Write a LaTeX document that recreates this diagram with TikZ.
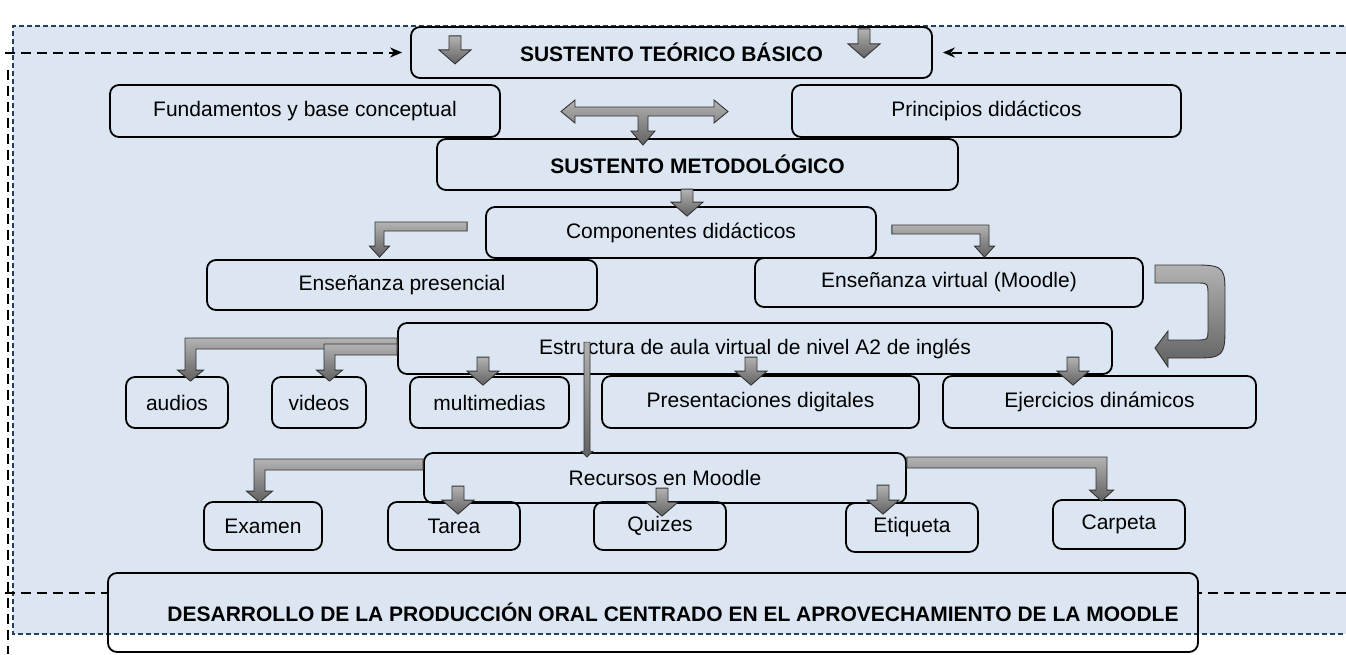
\documentclass[tikz,border=0pt]{standalone}
\usepackage{fontspec}
\setmainfont{Liberation Sans}
\usetikzlibrary{arrows.meta,calc}
\definecolor{bgblue}{HTML}{DCE6F2}
\definecolor{bordblue}{HTML}{243F60}
\newcommand\boxfont{\fontsize{21}{25}\selectfont}
% down block arrow: tip, length
\newcommand\dnarrow[2]{\draw[blk] #1 -- ++(-16,-14) -- ++(10,0) -- ++(0,{-(#2-14)}) -- ++(12,0) -- ++(0,{#2-14}) -- ++(10,0) -- cycle;}
% bent block arrow: bar start, tip, thickness, head half width, side (1 left, -1 right)
\newcommand\bendarrow[5]{\draw[blk] let \p1=#1, \p2=#2 in
  (\p1) -- ({\x2-(#5)*0.5*#3pt},\y1) -- ({\x2-(#5)*0.5*#3pt},{\y2+11pt}) -- ({\x2-(#5)*#4pt},{\y2+11pt}) -- (\p2)
  -- ({\x2+(#5)*#4pt},{\y2+11pt}) -- ({\x2+(#5)*0.5*#3pt},{\y2+11pt}) -- ({\x2+(#5)*0.5*#3pt},{\y1-#3pt}) -- (\x1,{\y1-#3pt}) -- cycle;}

\begin{document}
\begin{tikzpicture}[x=1pt,y=-1pt]
\tikzstyle{box} = [draw, line width=1.8pt, rounded corners=9pt, inner sep=0pt, font=\boxfont]
\tikzstyle{blk} = [draw=black!80, line width=0.9pt, top color=black!30, bottom color=black!62]
\tikzstyle{dline} = [black, line width=2pt, dash pattern=on 10pt off 6pt]
\useasboundingbox (0,0) rectangle (1346,654);

% background panel
\fill[bgblue] (13,26) rectangle (1352,634);
\draw[bordblue, line width=1.6pt, dash pattern=on 5pt off 3pt] (1352,26) -- (13,26) -- (13,634) -- (1352,634);

% boxes
\node[box, minimum width=521, minimum height=51] (teo) at (671.5,52.5) {\textbf{SUSTENTO TEÓRICO BÁSICO}};
\node[box, minimum width=390, minimum height=52] (fund) at (305,111) {Fundamentos y base conceptual};
\node[box, minimum width=389, minimum height=52] (prin) at (986.5,111) {Principios didácticos};
\node[box, minimum width=521, minimum height=51] (met) at (697.5,164.5) {\textbf{SUSTENTO METODOLÓGICO}};
\node[box, minimum width=390, minimum height=51] (comp) at (681,232.5) {Componentes didácticos};
\node[box, minimum width=390, minimum height=50] (pres) at (402,285) {Enseñanza presencial};
\node[box, minimum width=388, minimum height=49] (virt) at (949,282.5) {Enseñanza virtual (Moodle)};
\node[box, minimum width=714, minimum height=51] (estr) at (755,348.5) {Estructura de aula virtual de nivel A2 de inglés};
\node[box, minimum width=102, minimum height=51] (aud) at (177,402.5) {audios};
\node[box, minimum width=94, minimum height=51] (vid) at (319,402.5) {videos};
\node[box, minimum width=159, minimum height=51] (mult) at (489.5,402.5) {multimedias};
\node[box, minimum width=317, minimum height=52] (pdig) at (760.5,402) {Presentaciones digitales};
\node[box, minimum width=313, minimum height=52] (ejer) at (1099.5,402) {Ejercicios dinámicos};
\node[box, minimum width=482, minimum height=50] (rec) at (665,478) {Recursos en Moodle};
\node[box, minimum width=118, minimum height=48] (exa) at (263,526) {Examen};
\node[box, minimum width=132, minimum height=48] (tar) at (454,526) {Tarea};
\node[box, minimum width=132, minimum height=48] (qui) at (660,526) {Quizes};
\node[box, minimum width=132, minimum height=49] (eti) at (912,527.5) {Etiqueta};
\node[box, minimum width=132, minimum height=49] (car) at (1119,524.5) {Carpeta};
\node[box, minimum width=1090, minimum height=79] (des) at (653,612.5) {\hspace*{40pt}\textbf{DESARROLLO DE LA PRODUCCIÓN ORAL CENTRADO EN EL APROVECHAMIENTO DE LA MOODLE}};

% dashed frame lines
\coordinate (tl) at (5,52.5);
\coordinate (tr) at (1346,52.5);
\coordinate (bl) at (5,593);
\coordinate (br) at (1346,593);
\coordinate (vtop) at (8,70);
\coordinate (vbot) at (8,654);
\draw[dline, -{Stealth[length=12pt,width=10pt]}, shorten >=8pt] (tl) -- (teo.west);
\draw[dline, -{Stealth[length=12pt,width=10pt]}, shorten >=10pt] (tr) -- (teo.east);
\draw[dline] (bl) -- (bl -| des.west);
\draw[dline] (br) -- (br -| des.east);
\draw[dline] (vtop) -- (vbot);

% block arrows
\dnarrow{([shift={(-216.5,-15)}]teo.south)}{28}
\dnarrow{([shift={(192.5,-21)}]teo.south)}{29}
\draw[blk, shift={(643,111.5)}] (-82,0) -- (-68,-11.5) -- (-68,-4.5) -- (71,-4.5) -- (71,-11.5) -- (85,0) -- (71,11.5) -- (71,4.5)
  -- (5,4.5) -- (5,19.5) -- (12,19.5) -- (0,33.5) -- (-12,19.5) -- (-5,19.5) -- (-5,4.5) -- (-68,4.5) -- (-68,11.5) -- cycle;
\dnarrow{([shift={(6,10)}]comp.north)}{27}
\bendarrow{([shift={(-18,-10.5)}]comp.west)}{([shift={(-22.5,-2)}]pres.north)}{9}{10}{1}
\bendarrow{([shift={(15,-7.5)}]comp.east)}{([shift={(35.5,0)}]virt.north)}{9}{10}{-1}
\draw[blk] (1155,265) -- (1198,265) .. controls (1225,265) and (1225,270) .. (1225,295) -- (1225,330)
  .. controls (1225,355) and (1222,358) .. (1198,358) -- (1168,358) -- (1168,367) -- (1155,348) -- (1168,331) -- (1168,340)
  -- (1196,340) .. controls (1208,340) .. (1208,328) -- (1208,296) .. controls (1208,283) .. (1196,283) -- (1155,283) -- cycle;
\bendarrow{([shift={(0,-10.5)}]estr.west)}{([shift={(13.5,5)}]aud.north)}{11}{13}{1}
\bendarrow{([shift={(0,-4.5)}]estr.west)}{([shift={(10.5,5)}]vid.north)}{11}{13}{1}
\dnarrow{([shift={(-6.5,9)}]mult.north)}{28}
\dnarrow{([shift={(-9.5,10)}]pdig.north)}{28}
\dnarrow{([shift={(-26.5,10)}]ejer.north)}{28}
\draw[blk, line width=0.6pt] ([shift={(-78,5)}]rec.north) -- ++(-6,-6) -- ++(3,0) -- ++(0,-109) -- ++(6,0) -- ++(0,109) -- ++(3,0) -- cycle;
\bendarrow{([shift={(0,-19)}]rec.west)}{([shift={(-3.5,1)}]exa.north)}{11}{13}{1}
\bendarrow{([shift={(0,-21)}]rec.east)}{([shift={(-17.5,2)}]car.north)}{11}{12}{-1}
\dnarrow{([shift={(4,13)}]tar.north)}{28}
\dnarrow{([shift={(2,15)}]qui.north)}{28}
\dnarrow{([shift={(-29,12)}]eti.north)}{29}
\end{tikzpicture}
\end{document}
